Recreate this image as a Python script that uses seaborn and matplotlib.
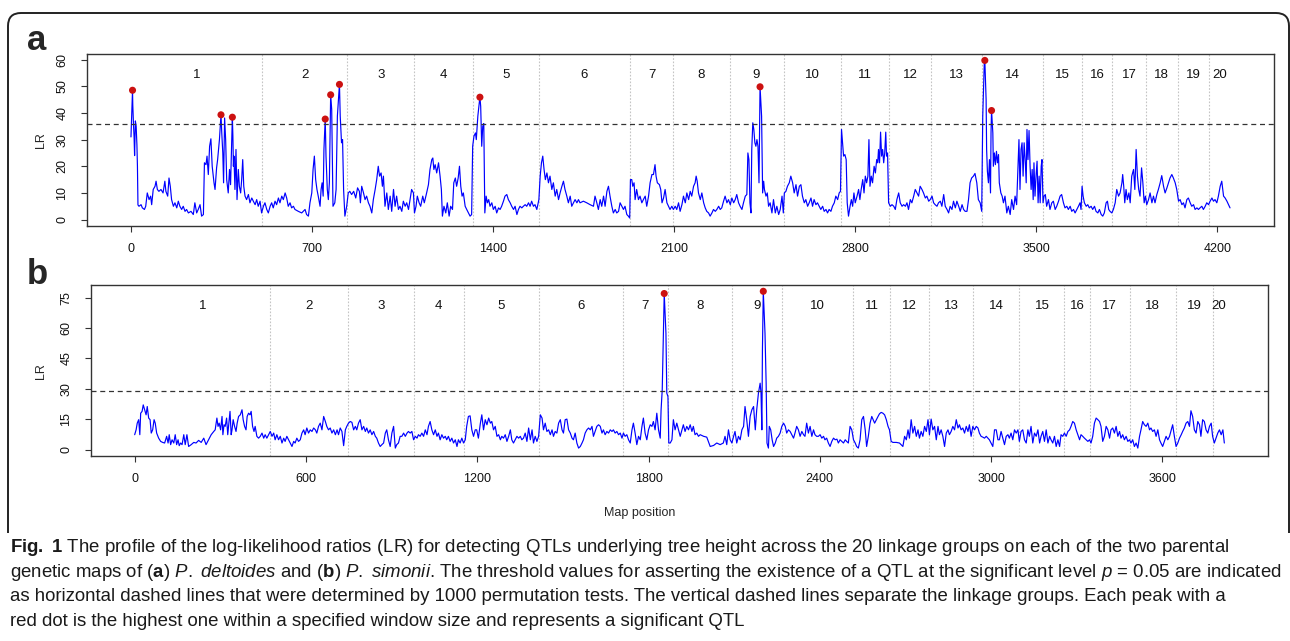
import matplotlib
matplotlib.use("Agg")
import matplotlib.pyplot as plt
import matplotlib.transforms as mtransforms
from matplotlib.path import Path
from matplotlib.patches import PathPatch
import pandas as pd
import seaborn as sns

# ---- panel a: P. deltoides map ----
a_pos = [
    0, 6, 7, 10, 12, 14, 17, 20, 23, 25, 27, 31, 39, 44, 52, 57, 63, 70, 76, 80,
    86, 93, 97, 102, 108, 116, 124, 131, 135, 142, 147, 152, 157, 164, 170, 177, 183, 189, 196, 202,
    209, 215, 222, 232, 241, 247, 254, 260, 267, 273, 280, 284, 290, 294, 299, 304, 309, 314, 321, 325,
    331, 335, 342, 348, 351, 355, 358, 362, 366, 370, 376, 381, 385, 392, 394, 396, 398, 402, 406, 410,
    415, 419, 424, 428, 432, 436, 441, 447, 454, 460, 467, 473, 480, 486, 492, 499, 505, 512, 518, 525,
    531, 538, 544, 550, 557, 563, 570, 576, 583, 589, 596, 602, 608, 615, 621, 628, 634, 647, 660, 673,
    679, 686, 692, 699, 704, 709, 714, 719, 724, 731, 735, 739, 743, 746, 751, 754, 759, 763, 767, 770,
    772, 776, 778, 781, 788, 793, 798, 806, 809, 814, 818, 822, 827, 834, 840, 846, 853, 861, 869, 876,
    883, 887, 892, 899, 905, 911, 918, 924, 931, 937, 944, 950, 956, 961, 967, 972,
    976, 982, 989, 995, 1002, 1008, 1015, 1021, 1027, 1034, 1040, 1047, 1053, 1060, 1066, 1073, 1079, 1085, 1092, 1096,
    1102, 1107, 1114, 1120, 1128, 1134, 1143, 1150, 1156, 1163, 1167, 1171, 1176, 1182, 1189, 1195, 1200, 1204, 1210, 1217,
    1223, 1230, 1236, 1243, 1248, 1254, 1259, 1265, 1270, 1275, 1280, 1285, 1292, 1298, 1305, 1311, 1317, 1321, 1326, 1332,
    1335, 1341, 1349, 1352, 1354, 1356, 1360, 1364, 1368, 1373, 1378, 1383, 1388, 1395, 1401, 1408, 1414, 1421, 1427, 1433,
    1440, 1446, 1453, 1459, 1466, 1472, 1479, 1485, 1492, 1498, 1504, 1511, 1517, 1524, 1530, 1537, 1543, 1549, 1556, 1562,
    1569, 1577, 1582, 1587, 1592, 1597, 1602, 1608, 1614, 1620, 1627, 1633, 1640, 1646, 1653, 1659, 1666, 1672, 1678, 1685,
    1691, 1698, 1704, 1711, 1717, 1724, 1730, 1736, 1749, 1762, 1775, 1788, 1794, 1801, 1807, 1814, 1820, 1827, 1833, 1840,
    1846, 1852, 1859, 1865, 1872, 1878, 1885, 1891, 1898, 1904, 1910, 1917, 1923, 1928, 1931, 1936, 1940, 1945, 1949, 1955,
    1962, 1968, 1975, 1981, 1988, 1994, 2001, 2007, 2014, 2020, 2026, 2030, 2035, 2043, 2048, 2053, 2059, 2065, 2072, 2078,
    2084, 2091, 2097,
    2104, 2110, 2117, 2123, 2130, 2136, 2143, 2149, 2156, 2162, 2168, 2175, 2181, 2185, 2189, 2194, 2201, 2207, 2214, 2220,
    2226, 2233, 2239, 2246, 2252, 2259, 2265, 2272, 2278, 2284, 2291, 2297, 2304, 2310, 2317, 2323, 2330, 2336, 2342, 2349,
    2355, 2362, 2368, 2375, 2381, 2385, 2389, 2393, 2397, 2400, 2404, 2408, 2412, 2416, 2420, 2424, 2428, 2430, 2432, 2438,
    2442, 2446, 2449, 2455, 2460, 2465, 2471, 2478, 2484, 2491, 2497, 2504, 2510, 2517, 2522, 2526, 2532, 2538, 2545, 2551,
    2558, 2564, 2571, 2577, 2584, 2590, 2596, 2603, 2609, 2616, 2622, 2629, 2635, 2641, 2648, 2654, 2661, 2667, 2674, 2680,
    2687, 2693, 2699, 2706, 2712, 2719, 2725, 2732, 2738, 2743, 2747, 2751, 2755, 2760, 2765, 2769, 2774, 2780, 2785, 2790,
    2795, 2800, 2807, 2813, 2818, 2823, 2829, 2834, 2839, 2844, 2849, 2853, 2857, 2862, 2867, 2873, 2878, 2883, 2887, 2890,
    2894, 2898, 2902, 2906, 2910, 2914, 2918, 2921, 2925, 2929, 2936, 2942, 2949, 2955, 2961, 2968, 2974, 2981, 2987, 2994,
    3000, 3006, 3013, 3019, 3026, 3032, 3039, 3045, 3051, 3058, 3064, 3071, 3077, 3084, 3090, 3097, 3103, 3109, 3116, 3122,
    3129, 3135, 3142, 3148, 3155, 3161, 3167, 3174, 3180, 3187, 3193, 3200, 3206, 3213, 3219, 3225, 3232, 3238,
    3244, 3250, 3257, 3263, 3270, 3276, 3283, 3289, 3293, 3297, 3299, 3301, 3306, 3308, 3311, 3315, 3319, 3323, 3325, 3327,
    3332, 3334, 3338, 3342, 3346, 3350, 3354, 3357, 3363, 3368, 3373, 3379, 3386, 3392, 3399, 3405, 3412, 3418, 3424, 3430,
    3433, 3437, 3441, 3445, 3449, 3453, 3457, 3461, 3464, 3468, 3472, 3476, 3480, 3484, 3488, 3491, 3495, 3499, 3503, 3507,
    3511, 3515, 3519, 3522, 3526, 3530, 3535, 3540, 3547, 3553, 3560, 3566, 3573, 3579, 3586, 3592, 3598, 3605, 3611, 3618,
    3624, 3631, 3637, 3644, 3650, 3657, 3663, 3669, 3673, 3677, 3681, 3686, 3693, 3699, 3705, 3712, 3718, 3725, 3731, 3738,
    3744, 3751, 3757, 3763, 3770, 3775, 3780, 3785, 3792, 3798, 3805, 3811, 3818, 3824, 3831, 3834, 3838, 3842, 3847, 3852,
    3858, 3863, 3869, 3876, 3881, 3886, 3891, 3896, 3901, 3907, 3912, 3917, 3922, 3927, 3934, 3940, 3947, 3953, 3959, 3966,
    3972, 3979, 3985, 3992, 3998, 4005, 4011, 4017, 4024, 4030, 4037, 4043, 4050, 4056, 4063, 4069, 4075, 4082, 4088, 4095,
    4101, 4108, 4114, 4121, 4127, 4133, 4140, 4146, 4153, 4159, 4166, 4172, 4179, 4185, 4191, 4198, 4204, 4211, 4217, 4224,
    4230, 4237, 4243, 4249,
]
a_lr = [
    31, 48.5, 43, 35, 31, 24, 37, 35, 28, 20, 5.5, 5, 5.6, 4.4, 3.8, 5, 10, 7.5, 8.8, 5.6,
    11.3, 12.5, 14.4, 11.3, 10.6, 11.3, 10, 14.4, 10.6, 8.8, 15.6, 12.5, 7.5, 5, 6.3, 4.4, 6.9, 5, 3.8, 5,
    3.1, 3.8, 2.5, 3.1, 1.9, 6.3, 2.5, 3.8, 5.6, 1.3, 1.9, 21.3, 20.6, 23.8, 16.9, 27.5, 30.3, 20, 13.8, 11.3,
    19.4, 22.5, 30, 39.4, 32.5, 25, 13.8, 38.1, 30, 15, 10, 18.8, 13.1, 38.5, 31.3, 20, 23.8, 11.3, 26.3, 7.5,
    18.8, 12.5, 10, 15, 22.5, 12.5, 8.8, 7.5, 9.4, 6.3, 8.1, 6.9, 5.6, 7.5, 5, 6.9, 2.5, 5, 6.3, 3.8,
    2.5, 5, 6.3, 4.4, 6.9, 5.6, 8.1, 6.3, 8.8, 7.5, 10, 8.1, 5, 6.3, 4.4, 5, 3.8, 3.1, 2.5, 3.8,
    1.9, 1.3, 6.3, 10, 18.8, 23.8, 15, 11.3, 8.8, 5, 11.3, 13.8, 8.8, 26.3, 37.9, 23.8, 11.3, 7.5, 13.8, 32.5,
    46.9, 41.3, 26.3, 5, 6.3, 11.3, 38.8, 50.8, 38.8, 28.8, 30, 11.3, 1.3, 5, 10, 10.6, 9.4, 10.6, 8.1, 11.9,
    10.6, 6.3, 12.5, 10, 7.5, 8.8, 6.3, 5, 2.5, 7.5, 11.3, 15, 20, 16.3, 17.5, 12.5,
    16.3, 5, 10, 3.8, 8.8, 3.1, 11.3, 5, 8.8, 3.8, 5, 3.1, 6.9, 5, 6.3, 3.8, 7.5, 11.3, 10, 2.5,
    5, 8.8, 6.3, 5, 8.8, 6.3, 10, 13.1, 18.8, 22.5, 23.1, 18.8, 20.6, 17.5, 21.3, 16.3, 11.3, 1.3, 5, 2.5,
    6.3, 1.3, 5, 3.8, 13.8, 15.6, 12.5, 15.6, 20, 12.5, 8.8, 10, 5, 3.8, 2.5, 1.3, 1.9, 27.5, 31.3, 32.5,
    30, 38.8, 46, 42.5, 35, 27.5, 35, 36, 2.5, 8.8, 6.3, 7.5, 5, 6.3, 3.8, 5, 2.5, 4.4, 3.8, 5,
    6.9, 8.8, 9.4, 7.5, 6.3, 5, 3.8, 5, 1.9, 3.8, 5, 4.4, 5, 5.6, 5, 6.3, 5, 6.9, 5, 5.6,
    3.8, 7.5, 16.3, 21.3, 23.8, 18.8, 15, 17.5, 13.8, 16.3, 11.3, 13.8, 8.8, 11.3, 7.5, 10, 12.5, 14.4, 11.3, 8.8,
    6.3, 8.8, 5, 6.3, 7.5, 6.3, 7.5, 6.3, 6.9, 6.3, 5.6, 5, 8.8, 6.3, 3.8, 7.5, 5, 8.8, 5, 10.6,
    12.5, 8.8, 5, 2.5, 3.8, 2.5, 3.1, 6.3, 5, 3.8, 5, 1.9, 1.3, 0.6, 15, 15, 12.5, 13.8, 7.5, 11.3,
    7.5, 8.8, 6.3, 7.5, 8.8, 5, 8.8, 13.8, 16.9, 16.9, 20.6, 16.3, 13.8, 13.1, 11.3, 6.3, 8.1, 11.3, 6.3, 5,
    3.8, 5, 3.8,
    5, 3.8, 6.3, 3.1, 5.6, 8.8, 6.3, 10, 7.5, 10.6, 8.8, 12.5, 13.8, 16.3, 14.4, 10, 7.5, 10, 6.3, 4.4,
    3.1, 2.5, 1.3, 2.5, 3.8, 3.1, 3.8, 5, 3.8, 4.4, 6.9, 8.8, 6.3, 7.5, 5.6, 8.1, 6.3, 7.5, 9.4, 6.3,
    5, 3.8, 6.3, 8.8, 9.4, 25, 22.5, 6.3, 2.5, 26.3, 36.3, 33.8, 28.8, 27.5, 30, 27.5, 13.8, 31.3, 49.9, 38.8,
    10, 14.4, 11.3, 8.8, 10, 5, 6.3, 2.5, 7.5, 2.5, 5, 1.9, 3.8, 8.8, 2.5, 10, 10.6, 12.5, 13.8, 16.3,
    13.8, 10, 13.1, 8.8, 12.5, 13.1, 8.8, 6.3, 7.5, 5, 6.3, 8.1, 5, 7.5, 5.6, 6.3, 5, 3.8, 5, 3.1,
    3.8, 2.5, 3.8, 3.1, 5, 6.3, 8.8, 7.5, 10, 10.6, 33.8, 28.8, 23.8, 24.4, 22.5, 6.3, 1.3, 5, 7.5, 5,
    10, 6.3, 8.8, 11.3, 7.5, 11.3, 15, 10, 16.3, 13.8, 16.3, 30, 12.5, 16.3, 13.8, 20, 17.5, 22.5, 21.3, 26.3,
    21.3, 32.8, 23.8, 26.3, 21.3, 25, 32.8, 23.8, 25, 6.3, 5, 5.6, 5, 3.8, 7.5, 10, 6.3, 5, 5.6, 5,
    6.3, 3.8, 7.5, 6.3, 8.8, 11.3, 10, 8.8, 12.5, 11.3, 10, 8.1, 8.8, 6.9, 7.5, 8.8, 6.3, 5.6, 5, 6.3,
    6.9, 5, 9.4, 5, 3.8, 2.5, 5, 3.8, 6.9, 4.4, 6.9, 5, 3.1, 5.6, 3.8, 3.1, 3.1, 7.5,
    13.8, 15.6, 16.3, 17.3, 13.8, 7.5, 6.3, 3.1, 38.8, 51.3, 58.8, 59.8, 45, 26.3, 18.1, 13.8, 22.5, 10, 32.5, 41,
    32.5, 20, 25, 20.6, 25.6, 21.3, 24.4, 13.8, 10, 8.8, 6.3, 8.8, 2.5, 5, 1.9, 7.5, 3.8, 8.8, 5.6, 22.5,
    30, 11.3, 26.3, 28.8, 16.3, 28.8, 22.5, 13.8, 33.8, 22.5, 33.4, 20, 11.3, 18.8, 7.5, 21.3, 8.8, 16.3, 21.9, 6.3,
    16.3, 6.3, 20, 22.5, 6.3, 8.8, 9.4, 5, 7.5, 3.8, 6.3, 6.9, 3.8, 5, 6.9, 8.8, 9.4, 6.3, 4.4, 5,
    3.8, 5, 3.1, 3.8, 2.5, 3.8, 5, 6.3, 3.8, 12.5, 8.8, 6.3, 5, 5.6, 4.4, 5, 3.8, 5, 3.1, 2.5,
    3.8, 1.9, 1.3, 2.5, 6.3, 6.9, 3.8, 3.1, 2.5, 3.8, 6.3, 11.3, 8.8, 10, 13.8, 16.9, 12.5, 6.3, 11.3, 7.5,
    10, 6.3, 16.3, 18.8, 11.3, 26.3, 16.3, 11.3, 8.8, 19.4, 13.8, 6.3, 8.8, 5.6, 7.5, 10, 6.3, 8.8, 6.3, 9.4,
    11.3, 13.8, 16.5, 12.5, 10, 11.9, 13.8, 15.6, 16.9, 15.6, 13.8, 11.3, 6.9, 7.5, 5.6, 6.3, 4.4, 7.5, 8.1, 6.3,
    5, 5.6, 3.8, 4.4, 3.8, 4.4, 5, 3.8, 5, 6.3, 5.6, 6.9, 8.1, 6.9, 7.5, 6.3, 8.8, 12.5, 14.4, 8.8,
    8.1, 6.9, 5.6, 4.4,
]
a_peak_pos = [6, 348, 392, 751, 772, 806, 1349, 2432, 3301, 3327]
a_peak_lr = [48.5, 39.3, 38.4, 37.7, 46.8, 50.7, 45.9, 49.8, 59.7, 40.9]
a_bounds = [0, 505, 837, 1096, 1321, 1577, 1930, 2095, 2314, 2523, 2745,
            2929, 3094, 3289, 3526, 3677, 3794, 3923, 4046, 4166, 4249]
a_threshold = 35.8
a_xticks = [0, 700, 1400, 2100, 2800, 3500, 4200]
a_yticks = [0, 10, 20, 30, 40, 50, 60]

# ---- panel b: P. simonii map ----
b_pos = [
    0, 5, 9, 14, 18, 21, 26, 30, 35, 40, 44, 49, 54, 58, 63, 68, 72, 77, 84, 91,
    98, 105, 112, 117, 121, 126, 131, 137, 142, 147, 152, 156, 161, 166, 172, 177, 183, 189, 198, 207,
    215, 224, 233, 242, 250, 259, 268, 277, 282, 288, 292, 296, 301, 306, 309, 313, 317, 322, 326, 330,
    334, 338, 341, 345, 350, 355, 359, 364, 370, 376, 380, 385, 390, 394, 399, 404, 408, 413, 418, 422,
    428, 434, 440, 446, 452, 457, 463, 469, 475, 481, 487, 492, 498, 504, 510, 516, 522, 527, 533, 539,
    545, 551, 557, 562, 568, 574, 580, 586, 592, 597, 603, 609, 615, 621, 627, 633, 638, 644, 650, 656,
    662, 668, 673, 679, 685, 691, 697, 703, 709, 714, 720, 726, 732, 738, 743, 749, 755, 761, 767, 773,
    778, 784, 790, 796, 802, 808, 813, 819, 825, 831, 837, 843, 848, 854, 860, 866, 872, 878, 883, 889,
    895, 901, 907, 913, 918, 924, 930, 936, 942, 948, 954, 959, 965, 971, 977, 983, 989, 994, 1000, 1006,
    1012, 1018, 1024, 1029, 1035, 1041, 1047, 1053, 1059, 1064, 1070, 1076, 1082, 1088, 1093, 1099, 1105, 1111, 1117, 1123,
    1129, 1134, 1140, 1146, 1152, 1158, 1163, 1169, 1175, 1181, 1187, 1193, 1198, 1204,
    1211, 1216, 1222, 1228, 1234, 1240, 1246, 1251, 1257, 1263, 1269, 1275, 1281, 1286, 1292, 1298, 1304, 1310, 1316, 1321,
    1327, 1333, 1339, 1345, 1351, 1356, 1362, 1368, 1374, 1380, 1386, 1392, 1397, 1403, 1409, 1415, 1421, 1427, 1432, 1438,
    1444, 1450, 1456, 1462, 1467, 1473, 1479, 1485, 1491, 1497, 1502, 1508, 1514, 1520, 1526, 1532, 1537, 1543, 1549, 1555,
    1561, 1567, 1572, 1578, 1584, 1590, 1596, 1602, 1607, 1613, 1619, 1625, 1631, 1637, 1642, 1648, 1654, 1660, 1666, 1672,
    1677, 1683, 1689, 1695, 1701, 1707, 1712, 1718, 1724, 1730, 1736, 1742, 1747, 1753, 1759, 1765, 1771, 1777, 1782, 1788,
    1794, 1800, 1806, 1812, 1817, 1823, 1829, 1835, 1841, 1844, 1848, 1851, 1855, 1861, 1864, 1868, 1871, 1876, 1882, 1887,
    1893, 1899, 1905, 1911, 1917, 1922, 1928, 1934, 1940, 1946, 1952, 1957, 1963, 1969, 1975, 1981, 1993, 2004, 2016, 2028,
    2039, 2051, 2062, 2068, 2074, 2080, 2086, 2092, 2098, 2103, 2109, 2115, 2121, 2127, 2133, 2138, 2144, 2150, 2156, 2162,
    2168, 2174, 2179, 2185, 2191, 2194, 2197, 2199, 2202, 2208, 2212, 2215, 2220, 2223, 2228, 2233, 2238, 2244, 2249, 2255,
    2261, 2267, 2273, 2279, 2284, 2290, 2296, 2302, 2308, 2313, 2319, 2325, 2331, 2337, 2343, 2348, 2354, 2360, 2366, 2372,
    2378, 2383, 2389, 2395, 2401, 2407, 2413, 2418, 2424, 2430, 2436, 2442, 2448, 2454, 2460, 2465, 2471, 2477, 2483, 2489,
    2494, 2500, 2506, 2512, 2518, 2524, 2529, 2535, 2541, 2547, 2553, 2559, 2564, 2570, 2576, 2582,
    2592, 2598, 2604, 2609, 2615, 2621, 2627, 2633, 2639, 2644, 2650, 2656, 2668, 2679, 2691, 2697, 2703, 2709, 2714, 2720,
    2726, 2732, 2738, 2744, 2749, 2755, 2761, 2767, 2773, 2779, 2784, 2790, 2796, 2802, 2808, 2814, 2819, 2825, 2831, 2837,
    2843, 2849, 2854, 2860, 2866, 2872, 2878, 2884, 2889, 2895, 2901, 2907, 2913, 2919, 2924, 2930, 2936, 2942, 2948, 2954,
    2959, 2965, 2971, 2977, 2983, 2989, 2994, 3000, 3006, 3012, 3018, 3024, 3029, 3035, 3041, 3047, 3053, 3059, 3064, 3070,
    3076, 3082, 3088, 3094, 3099, 3105, 3111, 3117, 3123, 3129, 3134, 3140, 3146, 3152, 3158, 3164, 3170, 3175, 3181, 3187,
    3193, 3199, 3205, 3210, 3216, 3222, 3228, 3234, 3240, 3245, 3251, 3257, 3263, 3269, 3275, 3280, 3286, 3292, 3298, 3304,
    3310, 3315, 3321, 3327, 3333, 3339, 3345, 3350, 3356, 3362, 3368, 3374, 3380, 3385, 3391, 3397, 3403, 3409, 3415, 3420,
    3426, 3432, 3438, 3444, 3450, 3455, 3461, 3467, 3473, 3479, 3485, 3490, 3496, 3502, 3508, 3514, 3520, 3525, 3531, 3537,
    3543, 3549, 3555, 3560, 3566, 3572, 3578, 3584, 3590, 3595, 3601, 3607, 3613, 3619, 3625, 3631, 3636, 3642, 3648, 3654,
    3660, 3666, 3671, 3677, 3683, 3689, 3695, 3700, 3706, 3712, 3718, 3724, 3730, 3735, 3741, 3747, 3753, 3759, 3765, 3771,
    3776, 3782, 3788, 3794, 3800, 3806, 3812, 3817,
]
b_lr = [
    7.4, 9.8, 13.1, 14.8, 7.4, 18, 18.9, 22.1, 19.7, 17.2, 21.3, 15.6, 14.8, 8.2, 9.8, 14.8, 13.1, 8.2, 5.7, 4.1,
    3.6, 3.3, 6.6, 3.3, 7.4, 2.5, 4.9, 3.3, 7.4, 2.5, 4.9, 2, 3.3, 2.5, 7.4, 2.5, 7.4, 1.6, 2.5, 3.6,
    3.3, 4.6, 3.6, 5.7, 2.5, 4.9, 7.4, 9, 9.8, 15.6, 11.5, 13.1, 9.8, 16.4, 7.4, 12.3, 11.5, 15.6, 7.4, 13.1,
    18.9, 7.4, 9.8, 14.8, 11.5, 9, 13.1, 16.4, 17.2, 19.7, 14.8, 11.5, 9.8, 16.4, 18, 17.2, 18.9, 11.5, 9, 11.5,
    6.6, 5.7, 6.6, 8.2, 5.7, 7.4, 5.7, 7.4, 9, 6.6, 8.2, 4.9, 7.4, 4.9, 6.6, 3.3, 5.7, 4.1, 6.6, 4.9,
    3.3, 1.6, 4.1, 3.3, 5.7, 4.1, 4.9, 8.2, 9.8, 7.4, 10.7, 8.2, 9.8, 9, 10.7, 9.8, 8.2, 11.5, 13.1, 9.8,
    16.4, 13.9, 11.5, 9.8, 10.7, 8.2, 9.8, 7.4, 9.8, 7.4, 10.7, 9, 2, 9.8, 11.5, 13.1, 13.9, 13.5, 9.8, 11.5,
    9.8, 13.1, 14.8, 9.8, 11.5, 9, 10.7, 8.2, 9.8, 7.4, 9, 6.6, 5.7, 3.3, 1.6, 2.5, 3.3, 8.2, 9.8, 4.9,
    1.6, 8.2, 11.5, 0.8, 2.5, 3.3, 6.6, 6.6, 8.2, 6.6, 8.2, 9, 8.2, 9, 4.9, 6.6, 5.7, 7.4, 6.6, 8.2,
    6.6, 9.8, 7.4, 11.5, 13.9, 9.8, 7.4, 9.8, 6.6, 8.2, 4.9, 7.4, 5.7, 6.6, 4.9, 6.6, 4.1, 5.7, 3.3, 4.9,
    1.6, 4.9, 3.3, 5.7, 3.3, 4.9, 11.5, 16.4, 16.7, 9.8, 6.6, 9.8, 9.8, 5.7,
    13.1, 17.2, 9.8, 14.8, 12.3, 15.6, 13.1, 13.9, 9.8, 11.5, 6.6, 7.4, 4.9, 6.6, 5.7, 7.4, 4.1, 6.6, 9.8, 4.9,
    3.3, 4.9, 6.6, 5.7, 6.6, 4.9, 5.7, 8.2, 4.1, 10.7, 4.9, 9.8, 3.3, 6.6, 4.1, 6.6, 17.2, 15.6, 9.8, 13.1,
    9, 9.8, 7.4, 9.8, 6.6, 9, 8.2, 13.1, 14.8, 9.8, 8.2, 14.8, 15.1, 9.8, 8.2, 5.7, 4.9, 8.2, 3.3, 0.8,
    1.6, 3.3, 4.9, 8.2, 9.8, 10.7, 9.8, 11.5, 6.6, 9, 11.5, 12.3, 11.5, 8.2, 9.8, 7.4, 9, 8.2, 9.8, 9,
    9.8, 8.2, 9, 7.4, 8.2, 5.7, 8.2, 6.6, 7.4, 4.9, 3.3, 9.8, 13.1, 8.2, 2.5, 6.6, 4.9, 11.5, 15.6, 8.2,
    4.9, 9.8, 12.3, 11.5, 13.9, 9.8, 18, 9.8, 5.7, 19.7, 29.5, 49.2, 77, 57.4, 27.9, 26.2, 3.3, 3.3, 4.9, 14.8,
    9.8, 13.1, 9.8, 6.6, 9.8, 12.3, 9, 11.5, 9.8, 12.3, 9, 11.5, 7.4, 8.2, 6.6, 7.4, 6.6, 6.2, 1.6, 2.1,
    3.3, 2.5, 3.3, 6.6, 2.5, 9.8, 4.9, 3.3, 6.6, 9, 3.3, 6.6, 4.9, 9.8, 11.5, 21.3, 14.8, 6.6, 16.4, 19.7,
    21.3, 9.8, 19.7, 27.9, 32.8, 27.9, 9.8, 49.2, 78.1, 57.4, 32.8, 3.3, 0.8, 11.5, 9.8, 4.9, 1.6, 3.3, 5.7, 6.6,
    8.2, 11.5, 13.1, 11.5, 8.2, 9.8, 9, 7.4, 5.7, 8.2, 11.5, 9.8, 6.6, 9, 7.4, 6.6, 13.1, 8.2, 11.5, 6.6,
    9.8, 7.4, 6.6, 6.6, 7.4, 5.7, 6.6, 4.9, 5.7, 3.3, 1.6, 4.1, 5.7, 4.9, 5.2, 3.3, 4.9, 4.1, 3.3, 4.9,
    4.1, 3.3, 11.5, 9.8, 4.9, 3.3, 1.6, 0.8, 4.9, 14.8, 16.4, 9.8, 1.6, 6.6, 13.1, 16.4,
    13.1, 14.8, 16.4, 17.7, 18.4, 18, 17.2, 14.8, 11.5, 9.8, 4.1, 3.6, 3.6, 3.3, 1.6, 6.6, 4.9, 9.8, 5.7, 14.8,
    8.2, 11.5, 6.6, 9.8, 5.7, 9, 6.6, 11.5, 9, 14.8, 7.4, 15.1, 9.8, 11.5, 4.9, 11.5, 7.4, 9.8, 6.6, 1.6,
    8.2, 9.8, 7.4, 9, 11.5, 9.8, 14.8, 10.7, 12.3, 9.8, 10.7, 8.2, 11.5, 9, 12.3, 6.6, 11.5, 9.8, 11.5, 10.7,
    8.2, 6.6, 6.2, 5.7, 6.6, 5.7, 4.9, 3.3, 1.6, 9.8, 9.8, 4.9, 4.9, 9, 5.7, 2.5, 6.6, 7.4, 5.7, 8.2,
    4.9, 9.8, 8.2, 9.8, 4.1, 9, 9.8, 4.9, 3.3, 9.8, 6.6, 11.5, 3.3, 8.2, 6.6, 9.8, 3.3, 6.6, 9, 4.1,
    9.8, 3.3, 6.6, 4.9, 3.3, 6.6, 1.6, 4.9, 1.6, 7.4, 6.6, 8.2, 6.6, 9, 9.8, 11.5, 13.9, 13.1, 9.8, 7.4,
    4.9, 7.4, 6.6, 5.7, 4.9, 4.1, 4.9, 3.3, 6.6, 13.1, 15.6, 14.8, 13.9, 11.5, 4.1, 6.6, 11.5, 9.8, 5.7, 9.8,
    10.7, 8.2, 11.5, 6.6, 9, 5.7, 7.4, 4.9, 6.6, 4.1, 4.9, 3.3, 4.9, 1.6, 3.3, 0.8, 6.6, 9.8, 13.9, 12.3,
    11.5, 13.1, 9.8, 10.7, 9, 9.8, 6.6, 9.8, 4.9, 3.3, 1.6, 4.1, 6.6, 4.9, 6.6, 9.8, 12.3, 6.6, 1.6, 3.3,
    5.7, 7.4, 9, 10.7, 13.1, 13.9, 11.5, 19.2, 16.4, 9.8, 8.2, 13.9, 12.3, 6.6, 14.8, 13.9, 9.8, 8.2, 11.5, 13.1,
    6.6, 3.3, 5.7, 8.2, 9.8, 7.4, 9.8, 3.3,
]
b_peak_pos = [1855, 2202]
b_peak_lr = [77.0, 78.1]
b_bounds = [0, 475, 749, 979, 1152, 1415, 1709, 1868, 2094, 2269, 2515,
            2647, 2782, 2938, 3099, 3257, 3347, 3485, 3648, 3779, 3817]
b_threshold = 29.1
b_xticks = [0, 600, 1200, 1800, 2400, 3000, 3600]
b_yticks = [0, 15, 30, 45, 60, 75]

caption_lines = [
    r"$\mathbf{Fig.}$ $\mathbf{1}$ The profile of the log-likelihood ratios (LR) for detecting QTLs underlying "
    r"tree height across the 20 linkage groups on each of the two parental",
    r"genetic maps of ($\mathbf{a}$) $\mathit{P.}$ $\mathit{deltoides}$ and ($\mathbf{b}$) $\mathit{P.}$ "
    r"$\mathit{simonii}$. The threshold values for asserting the existence of a QTL at the significant level "
    r"$\mathit{p}$ = 0.05 are indicated",
    "as horizontal dashed lines that were determined by 1000 permutation tests. The vertical dashed lines "
    "separate the linkage groups. Each peak with a",
    "red dot is the highest one within a specified window size and represents a significant QTL",
]

W, H = 1290, 641
BLUE = "#0000FF"
RED = "#CC1111"
EDGE = "#333333"

sns.set_style("ticks")
plt.rcParams["font.family"] = ["Liberation Sans", "DejaVu Sans"]
plt.rcParams["mathtext.fontset"] = "custom"
plt.rcParams["mathtext.rm"] = "Liberation Sans"
plt.rcParams["mathtext.it"] = "Liberation Sans:italic"
plt.rcParams["mathtext.bf"] = "Liberation Sans:bold"

fig = plt.figure(figsize=(W / 100, H / 100), dpi=100)
fig.patch.set_facecolor("white")
# pixel coordinates measured from the top-left corner
px = mtransforms.Affine2D().scale(1 / W, -1 / H).translate(0, 1) + fig.transFigure


def draw_panel(rect, pos, lr, peak_pos, peak_lr, bounds, threshold,
               xticks, yticks, xlim, ylim):
    ax = fig.add_axes(rect)
    df = pd.DataFrame({"pos": pos, "lr": lr})
    sns.lineplot(data=df, x="pos", y="lr", ax=ax, color=BLUE, lw=0.85,
                 estimator=None, sort=False)
    sns.scatterplot(x=peak_pos, y=peak_lr, ax=ax, color=RED, s=26,
                    edgecolor="none", zorder=5)
    for b in bounds[1:-1]:
        ax.axvline(b, color="#C4C4C4", lw=0.8, ls=(0, (1.5, 1.5)), zorder=0)
    ax.axhline(threshold, color=EDGE, lw=0.9, ls=(0, (4, 3)))
    trans = mtransforms.blended_transform_factory(ax.transData, ax.transAxes)
    for i in range(len(bounds) - 1):
        ax.text((bounds[i] + bounds[i + 1]) / 2, 0.875, str(i + 1), transform=trans,
                ha="center", va="center", fontsize=9.5, color="#111111")
    ax.set_xlim(*xlim)
    ax.set_ylim(*ylim)
    ax.set_xticks(xticks)
    ax.set_yticks(yticks)
    ax.set_xlabel("")
    ax.set_ylabel("")
    for s in ax.spines.values():
        s.set_color(EDGE)
        s.set_linewidth(1.0)
        s.set_visible(True)
    ax.tick_params(axis="both", direction="out", length=4.5, width=0.8,
                   color=EDGE, labelsize=9, labelcolor="#111111")
    ax.tick_params(axis="x", pad=8)
    ax.tick_params(axis="y", pad=9)
    for lab in ax.get_yticklabels():
        lab.set_rotation(90)
        lab.set_va("center")
    return ax


ax_a = draw_panel([87 / W, 1 - 226 / H, 1187 / W, 172 / H], a_pos, a_lr,
                  a_peak_pos, a_peak_lr, a_bounds, a_threshold,
                  a_xticks, a_yticks, (-170, 4419), (-2.4, 62.1))
ax_b = draw_panel([91 / W, 1 - 456 / H, 1177 / W, 171 / H], b_pos, b_lr,
                  b_peak_pos, b_peak_lr, b_bounds, b_threshold,
                  b_xticks, b_yticks, (-153, 3970), (-3.1, 81.2))

fig.text(37, 41, "a", transform=px, fontsize=25, fontweight="bold", ha="center", va="center")
fig.text(37, 274, "b", transform=px, fontsize=25, fontweight="bold", ha="center", va="center")
fig.text(41, 140, "LR", transform=px, fontsize=9, rotation=90, ha="center", va="center")
fig.text(41, 371, "LR", transform=px, fontsize=9, rotation=90, ha="center", va="center")
fig.text(640, 513, "Map position", transform=px, fontsize=9, ha="center", va="center")

# open-bottom rounded frame around the figure
verts = [(8, 533), (8, 26), (8, 13), (21, 13), (1276, 13), (1289, 13), (1289, 26), (1289, 533)]
codes = [Path.MOVETO, Path.LINETO, Path.CURVE3, Path.CURVE3, Path.LINETO,
         Path.CURVE3, Path.CURVE3, Path.LINETO]
fig.add_artist(PathPatch(Path(verts, codes), transform=px, fill=False,
                         edgecolor="#222222", lw=1.4))

cap_texts = []
for i, line in enumerate(caption_lines):
    cap_texts.append(fig.text(10, 552 + i * 24.6, line, transform=px, fontsize=12,
                              ha="left", va="baseline", color="#1a1a1a"))
fig.canvas.draw()
renderer = fig.canvas.get_renderer()
width = cap_texts[1].get_window_extent(renderer).width
for t in cap_texts:
    t.set_fontsize(12 * 1272 / width)

fig.savefig("out.png", dpi=100)
